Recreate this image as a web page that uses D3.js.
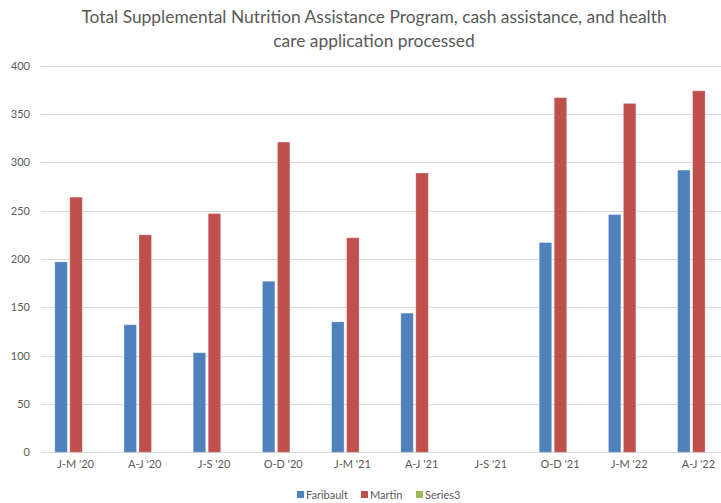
<!DOCTYPE html>
<html><head><meta charset="utf-8">
<script src="https://cdn.jsdelivr.net/npm/d3@7"></script>
<style>
html,body{margin:0;padding:0;background:#fff;}
svg{display:block;font-family:Lato, "Open Sans", sans-serif;}
</style></head>
<body>
<svg id="c" width="721" height="503"></svg>
<script>
const categories = ["J-M '20","A-J '20","J-S '20","O-D '20","J-M '21","A-J '21","J-S '21","O-D '21","J-M '22","A-J '22"];
const seriesNames = ["Faribault","Martin","Series3"];
const faribault = [197,132,103,177,135,144,null,217,246,292];
const martin = [264,225,247,321,222,289,null,367,361,374];
const series3 = [null,null,null,null,null,null,null,null,null,null];
const yTicks = [0,50,100,150,200,250,300,350,400];
const titleLines = ["Total Supplemental Nutrition Assistance Program, cash assistance, and health","care application processed"];
const colors = ["#4F81BD","#C0504D","#9BBB59"];

const svg = d3.select("#c");
const x0 = 41, x1 = 733, yTop = 65.7, yBot = 452.3;
const x = d3.scaleBand().domain(categories).range([x0,x1]).paddingInner(0).paddingOuter(0);
const y = d3.scaleLinear().domain([0,400]).range([yBot,yTop]);
const xs = d3.scaleBand().domain(seriesNames).range([0,45]);

// gridlines
const grid = d3.axisLeft(y).tickValues(yTicks).tickSize(-(x1-x0)).tickFormat("");
const gg = svg.append("g").attr("transform",`translate(${x0},0)`).call(grid);
gg.select(".domain").remove();
gg.selectAll("line").attr("stroke","#D9D9D9").attr("stroke-width",1).attr("shape-rendering","crispEdges");

// y labels
const ya = d3.axisLeft(y).tickValues(yTicks).tickSize(0).tickPadding(0);
const yg = svg.append("g").attr("transform",`translate(30,0)`).call(ya);
yg.select(".domain").remove();
yg.selectAll("text").attr("fill","#595959").attr("font-size","11px").attr("font-family","Lato, 'Open Sans', sans-serif");

// bars
const data = [faribault, martin, series3];
data.forEach((vals,si)=>{
  svg.append("g").selectAll("rect").data(categories.map((c,i)=>({c,v:vals[i]})).filter(d=>d.v!=null))
    .enter().append("rect")
    .attr("x",d=>x(d.c)+x.bandwidth()/2-21.3+xs(seriesNames[si])+0.5)
    .attr("width",xs.bandwidth()-2.5)
    .attr("y",d=>y(d.v))
    .attr("height",d=>y(0)-y(d.v))
    .attr("fill",colors[si])
    .attr("stroke","#ffffff").attr("stroke-opacity",0.35).attr("stroke-width",0.8);
});

// x labels
const xa = d3.axisBottom(x).tickSize(0).tickPadding(0);
const xg = svg.append("g").attr("transform",`translate(0,460)`).call(xa);
xg.select(".domain").remove();
xg.selectAll("text").attr("fill","#595959").attr("font-size","11px").attr("font-family","Lato, 'Open Sans', sans-serif").attr("dy","0.71em");

// title
const tg = svg.append("g");
titleLines.forEach((t,i)=>{
  tg.append("text").attr("x",374).attr("y",23+i*24).attr("text-anchor","middle")
    .attr("fill","#595959").attr("font-size","17.4px").text(t);
});

// legend
const leg = svg.append("g");
const legX = [297,361,416];
seriesNames.forEach((n,i)=>{
  leg.append("rect").attr("x",legX[i]).attr("y",491).attr("width",7).attr("height",7).attr("fill",colors[i]);
  leg.append("text").attr("x",legX[i]+9).attr("y",498.5).attr("fill","#595959").attr("font-size","11px").text(n);
});
</script>
</body></html>
